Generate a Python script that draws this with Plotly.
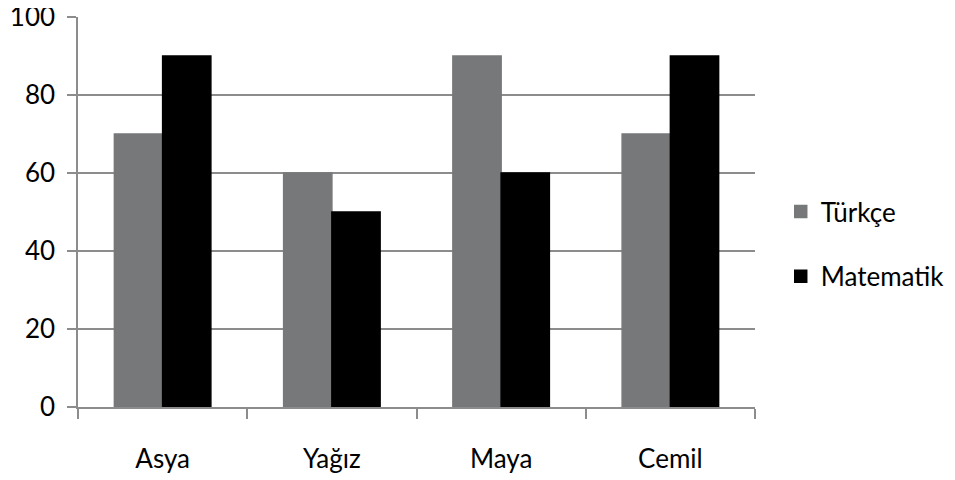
import plotly.graph_objects as go

categories = ["Asya", "Yağız", "Maya", "Cemil"]
turkce = [70, 60, 90, 70]
matematik = [90, 50, 60, 90]
y_ticks = [0, 20, 40, 60, 80, 100]

font = "Lato"
fig = go.Figure()
fig.add_trace(go.Bar(name="Türkçe", x=categories, y=turkce, marker_color="#76787a",
                     marker_line=dict(color="#76787a", width=1.5), legendgroup="a"))
fig.add_trace(go.Bar(name="Matematik", x=categories, y=matematik, marker_color="#000000",
                     marker_line=dict(color="#000000", width=1.5), legendgroup="b"))

fig.update_layout(
    width=955, height=480,
    margin=dict(l=70, r=208, t=9, b=81),
    paper_bgcolor="white", plot_bgcolor="white",
    barmode="group", bargap=0.43, bargroupgap=0,
    font=dict(family=font, size=26, color="#000000"),
    showlegend=True,
    legend=dict(x=1.038, y=0.418, yanchor="middle", xanchor="left",
                tracegroupgap=28, font=dict(size=26)),
    xaxis=dict(showline=True, linecolor="#8c8c8c", linewidth=1.5,
               ticks="outside", tickson="boundaries", ticklen=10,
               tickcolor="#8c8c8c", tickwidth=1.5, ticklabelstandoff=28,
               showgrid=False, automargin=False),
    yaxis=dict(range=[0, 100], tickmode="array", tickvals=y_ticks,
               ticktext=[str(v) for v in y_ticks], showline=True,
               linecolor="#8c8c8c", linewidth=1.5, ticks="outside",
               ticklen=9, tickcolor="#8c8c8c", tickwidth=1.5,
               gridcolor="#8c8c8c", gridwidth=1.5, zeroline=False,
               ticklabelstandoff=7, automargin=False,
               ticklabeloverflow="allow"),
)
fig.write_html(
    "out.html",
    config={"displayModeBar": False},
    post_script="document.querySelectorAll('.main-svg').forEach(function(s){s.style.overflow='visible';});",
)
